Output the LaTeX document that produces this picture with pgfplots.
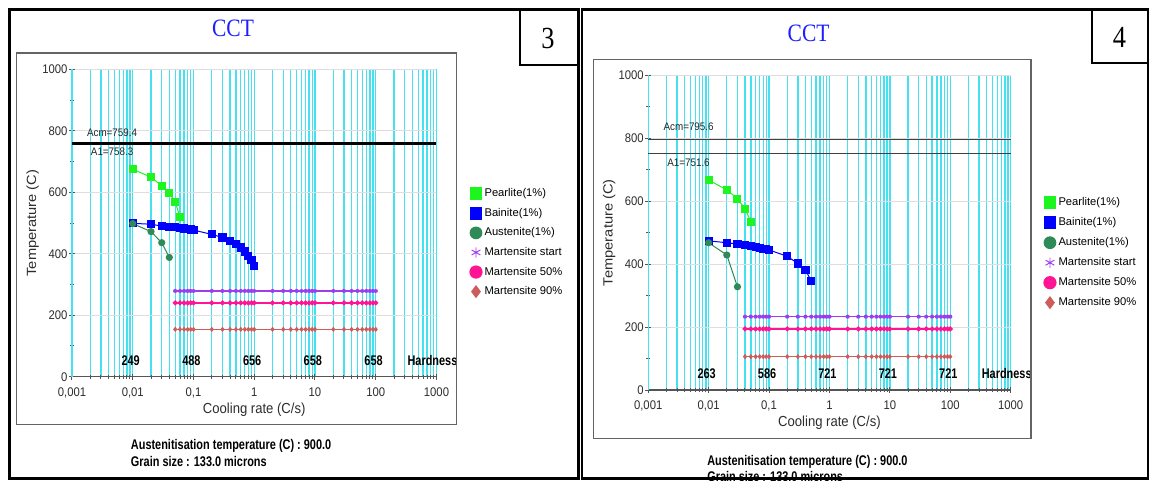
\documentclass[border=0pt]{standalone}
\usepackage{pgfplots}
\pgfplotsset{compat=1.18}
\usepackage{pgfplotstable}
\usepackage{fontspec}
\setmainfont{Liberation Sans}
\newfontfamily\tickf[FakeStretch=0.9]{Liberation Sans}
\newfontfamily\ylabf[FakeStretch=1.1]{Liberation Sans}
\newfontfamily\boldn[FakeStretch=0.78]{Liberation Sans Bold}
\newfontfamily\serf[FakeStretch=0.86]{Liberation Serif}
\definecolor{gridcyan}{RGB}{70,225,240}
\definecolor{hgrid}{RGB}{222,222,222}
\definecolor{pearl}{RGB}{30,245,30}
\definecolor{bain}{RGB}{0,0,255}
\definecolor{aust}{RGB}{46,139,87}
\definecolor{mstart}{RGB}{160,60,240}
\definecolor{mfifty}{RGB}{255,20,147}
\definecolor{mninety}{RGB}{205,92,92}
\definecolor{axgray}{RGB}{85,85,85}
\definecolor{txtgray}{RGB}{45,45,45}
\definecolor{ccblue}{RGB}{30,30,255}
\definecolor{framegray}{RGB}{100,100,100}

\newcommand\TickFont{\tickf\fontsize{9.4}{11}\selectfont}
\newcommand\XlabFont{\tickf\fontsize{10.9}{12}\selectfont}
\newcommand\YlabFont{\ylabf\fontsize{10}{12}\selectfont}
\newcommand\LegFont{\fontsize{8.4}{10}\selectfont}
\newcommand\HardFont{\boldn\fontsize{10.5}{12}\selectfont}
\newcommand\AFont{\tickf\fontsize{8.2}{10}\selectfont}

% ---------- data ----------
\pgfplotstableread{
x T
0.01 675
0.02 649
0.03 621
0.04 597
0.05 569
0.06 519
}\pearlA
\pgfplotstableread{
x T
0.01 499
0.02 496
0.03 490
0.04 488
0.05 486
0.06 484
0.07 482
0.08 480
0.09 479
0.1 477
0.2 463
0.3 453
0.4 441
0.5 431
0.6 420
0.7 407
0.8 393
0.9 380
1 361
}\bainA
\pgfplotstableread{
x T
0.01 498
0.02 472
0.03 436
0.04 388
}\austA
\pgfplotstableread{
x ms m50 m90
0.05 279 240 154
0.06 279 240 154
0.07 279 240 154
0.08 279 240 154
0.09 279 240 154
0.1 279 240 154
0.2 279 240 154
0.3 279 240 154
0.4 279 240 154
0.5 279 240 154
0.6 279 240 154
0.7 279 240 154
0.8 279 240 154
0.9 279 240 154
1 279 240 154
2 279 240 154
3 279 240 154
4 279 240 154
5 279 240 154
6 279 240 154
7 279 240 154
8 279 240 154
9 279 240 154
10 279 240 154
20 279 240 154
30 279 240 154
40 279 240 154
50 279 240 154
60 279 240 154
70 279 240 154
80 279 240 154
90 279 240 154
100 279 240 154
}\martA

\pgfplotstableread{
x T
0.01 667
0.02 636
0.03 608
0.04 576
0.05 535
}\pearlB
\pgfplotstableread{
x T
0.01 474
0.02 468
0.03 464
0.04 461
0.05 458
0.06 454
0.07 451
0.08 449
0.09 447
0.1 445
0.2 425
0.3 402
0.4 381
0.5 347
}\bainB
\pgfplotstableread{
x T
0.01 468
0.02 429
0.03 328
}\austB
\pgfplotstableread{
x ms m50 m90
0.04 233 194 106
0.05 233 194 106
0.06 233 194 106
0.07 233 194 106
0.08 233 194 106
0.09 233 194 106
0.1 233 194 106
0.2 233 194 106
0.3 233 194 106
0.4 233 194 106
0.5 233 194 106
0.6 233 194 106
0.7 233 194 106
0.8 233 194 106
0.9 233 194 106
1 233 194 106
2 233 194 106
3 233 194 106
4 233 194 106
5 233 194 106
6 233 194 106
7 233 194 106
8 233 194 106
9 233 194 106
10 233 194 106
20 233 194 106
30 233 194 106
40 233 194 106
50 233 194 106
60 233 194 106
70 233 194 106
80 233 194 106
90 233 194 106
100 233 194 106
}\martB

\pgfplotsset{
  legend image code/.code={\path[draw=none, fill=none] (-4.4pt,-5pt) rectangle (4.4pt,5pt);
      \draw[#1] plot coordinates {(0pt,0pt)};},
}

\begin{document}
\begin{tikzpicture}[x=0.75pt, y=0.75pt]
\useasboundingbox (0,0) rectangle (1149,480);
\fill[white] (0,0) rectangle (1149,480);

% ================= panel 3 =================
\begin{axis}[
  scale only axis,
  xmode=log, log basis x=10,
  xmin=0.001, xmax=1000, ymin=0, ymax=1000,
  axis x line*=bottom, axis y line*=left,
  axis line style={-},
  x axis line style={draw=axgray, line width=1.1pt},
  y axis line style={draw=gridcyan, line width=1pt},
  xtick={0.001,0.01,0.1,1,10,100,1000},
  xticklabels={{0,001},{0,01},{0,1},1,10,100,1000},
  minor xtick={0.002,0.003,0.004,0.005,0.006,0.007,0.008,0.009,
    0.02,0.03,0.04,0.05,0.06,0.07,0.08,0.09,
    0.2,0.3,0.4,0.5,0.6,0.7,0.8,0.9,
    2,3,4,5,6,7,8,9,20,30,40,50,60,70,80,90,
    200,300,400,500,600,700,800,900},
  ytick={0,200,400,600,800,1000},
  yticklabels={0,200,400,600,800,1000},
  minor ytick={100,300,500,700,900},
  xmajorgrids, xminorgrids, ymajorgrids,
  grid style={draw=gridcyan, line width=1pt},
  minor grid style={draw=gridcyan, line width=1pt},
  major grid style={draw=gridcyan, line width=1pt},
  major x grid style={draw=gridcyan, line width=1pt},
  minor x grid style={draw=gridcyan, line width=1pt},
  major y grid style={draw=hgrid, line width=0.8pt},
  tick align=center,
  major tick length=4.3pt, minor tick length=3pt,
  tick style={draw=axgray, line width=0.75pt},
  ticklabel style={font=\TickFont, text=txtgray},
  xticklabel style={yshift=-2.5pt},
  yticklabel style={xshift=2.3pt},
  xlabel={Cooling rate (C/s)}, ylabel={Temperature (C)},
  xlabel style={font=\XlabFont, text=txtgray, anchor=center, at={(axis description cs:0.5,-0.106)}},
  ylabel style={font=\YlabFont, text=txtgray, anchor=center, at={(axis description cs:-0.108,0.5)}},
  clip=false,
  legend style={draw=none, fill=none, inner sep=0pt, outer sep=0pt,
    font=\LegFont, row sep=3.1pt, column sep=0pt, anchor=north west,
    at={(axis description cs:1.0923,0.6204)},
    cells={anchor=west, inner sep=0pt}},
  at={(54pt,77.475pt)}, anchor=south west,
  width=273.375pt, height=230.55pt,
]
\addplot[forget plot, black, line width=1.6pt, mark=none] coordinates {(0.001,759.4) (1000,759.4)};
\addplot[forget plot, black, line width=1.6pt, mark=none] coordinates {(0.001,758.3) (1000,758.3)};
\addplot[color=pearl, line width=0.75pt, mark=square*, mark size=2.6pt, legend image post style={mark size=4.4pt}] table[x=x,y=T] {\pearlA};
\addlegendentry{Pearlite(1\%)}
\addplot[color=bain, line width=0.75pt, mark=square*, mark size=2.7pt, legend image post style={mark size=4.4pt}] table[x=x,y=T] {\bainA};
\addlegendentry{Bainite(1\%)}
\addplot[color=aust, line width=0.75pt, mark=*, mark size=2.3pt, legend image post style={mark size=4.4pt}] table[x=x,y=T] {\austA};
\addlegendentry{Austenite(1\%)}
\addplot[color=mstart, line width=1.1pt, mark=asterisk, mark size=1.5pt, legend image post style={mark size=3.8pt, line width=0.7pt}] table[x=x,y=ms] {\martA};
\addlegendentry{Martensite start}
\addplot[color=mfifty, line width=1.1pt, mark=*, mark size=1.3pt, legend image post style={mark size=4.4pt}] table[x=x,y=m50] {\martA};
\addlegendentry{Martensite 50\%}
\addplot[color=mninety, line width=0.9pt, mark=diamond*, mark size=1.3pt, legend image post style={mark size=4.2pt}] table[x=x,y=m90] {\martA};
\addlegendentry{Martensite 90\%}
\node[font=\AFont, anchor=west, text=black!85, inner sep=0pt] at (axis cs:0.00175,793) {Acm=759.4};
\node[font=\AFont, anchor=west, text=black!85, inner sep=0pt] at (axis cs:0.00203,731) {A1=758.3};
\node[font=\HardFont, xshift=-1.6pt] at (axis cs:0.01,52) {249};
\node[font=\HardFont, xshift=-1.6pt] at (axis cs:0.1,52) {488};
\node[font=\HardFont, xshift=-1.6pt] at (axis cs:1,52) {656};
\node[font=\HardFont, xshift=-1.6pt] at (axis cs:10,52) {658};
\node[font=\HardFont, xshift=-1.6pt] at (axis cs:100,52) {658};
\node[font=\HardFont, xshift=-3pt] at (axis cs:1000,52) {Hardness};
\end{axis}

% ================= panel 4 =================
\begin{axis}[
  scale only axis,
  xmode=log, log basis x=10,
  xmin=0.001, xmax=1000, ymin=0, ymax=1000,
  axis x line*=bottom, axis y line*=left,
  axis line style={-},
  x axis line style={draw=axgray, line width=1.1pt},
  y axis line style={draw=gridcyan, line width=1pt},
  xtick={0.001,0.01,0.1,1,10,100,1000},
  xticklabels={{0,001},{0,01},{0,1},1,10,100,1000},
  minor xtick={0.002,0.003,0.004,0.005,0.006,0.007,0.008,0.009,
    0.02,0.03,0.04,0.05,0.06,0.07,0.08,0.09,
    0.2,0.3,0.4,0.5,0.6,0.7,0.8,0.9,
    2,3,4,5,6,7,8,9,20,30,40,50,60,70,80,90,
    200,300,400,500,600,700,800,900},
  ytick={0,200,400,600,800,1000},
  yticklabels={0,200,400,600,800,1000},
  minor ytick={100,300,500,700,900},
  xmajorgrids, xminorgrids, ymajorgrids,
  grid style={draw=gridcyan, line width=1pt},
  minor grid style={draw=gridcyan, line width=1pt},
  major grid style={draw=gridcyan, line width=1pt},
  major x grid style={draw=gridcyan, line width=1pt},
  minor x grid style={draw=gridcyan, line width=1pt},
  major y grid style={draw=hgrid, line width=0.8pt},
  tick align=center,
  major tick length=4.3pt, minor tick length=3pt,
  tick style={draw=axgray, line width=0.75pt},
  ticklabel style={font=\TickFont, text=txtgray},
  xticklabel style={yshift=-2.5pt},
  yticklabel style={xshift=2.3pt},
  xlabel={Cooling rate (C/s)}, ylabel={Temperature (C)},
  xlabel style={font=\XlabFont, text=txtgray, anchor=center, at={(axis description cs:0.5,-0.104)}},
  ylabel style={font=\YlabFont, text=txtgray, anchor=center, at={(axis description cs:-0.108,0.5)}},
  clip=false,
  legend style={draw=none, fill=none, inner sep=0pt, outer sep=0pt,
    font=\LegFont, row sep=3.4pt, column sep=0pt, anchor=north west,
    at={(axis description cs:1.0921,0.6196)},
    cells={anchor=west, inner sep=0pt}},
  at={(486.15pt,67.5pt)}, anchor=south west,
  width=271.875pt, height=236.025pt,
]
\addplot[forget plot, black!75, line width=1.3pt, mark=none] coordinates {(0.001,795.6) (1000,795.6)};
\addplot[forget plot, black!75, line width=1.3pt, mark=none] coordinates {(0.001,751.6) (1000,751.6)};
\addplot[color=pearl, line width=0.75pt, mark=square*, mark size=2.6pt, legend image post style={mark size=4.4pt}] table[x=x,y=T] {\pearlB};
\addlegendentry{Pearlite(1\%)}
\addplot[color=bain, line width=0.75pt, mark=square*, mark size=2.7pt, legend image post style={mark size=4.4pt}] table[x=x,y=T] {\bainB};
\addlegendentry{Bainite(1\%)}
\addplot[color=aust, line width=0.75pt, mark=*, mark size=2.3pt, legend image post style={mark size=4.4pt}] table[x=x,y=T] {\austB};
\addlegendentry{Austenite(1\%)}
\addplot[color=mstart, line width=1.1pt, mark=asterisk, mark size=1.5pt, legend image post style={mark size=3.8pt, line width=0.7pt}] table[x=x,y=ms] {\martB};
\addlegendentry{Martensite start}
\addplot[color=mfifty, line width=1.1pt, mark=*, mark size=1.3pt, legend image post style={mark size=4.4pt}] table[x=x,y=m50] {\martB};
\addlegendentry{Martensite 50\%}
\addplot[color=mninety, line width=0.9pt, mark=diamond*, mark size=1.3pt, legend image post style={mark size=4.2pt}] table[x=x,y=m90] {\martB};
\addlegendentry{Martensite 90\%}
\node[font=\AFont, anchor=west, text=black!85, inner sep=0pt] at (axis cs:0.00178,835) {Acm=795.6};
\node[font=\AFont, anchor=west, text=black!85, inner sep=0pt] at (axis cs:0.00205,723) {A1=751.6};
\node[font=\HardFont, xshift=-1.5pt] at (axis cs:0.01,53) {263};
\node[font=\HardFont, xshift=-1.5pt] at (axis cs:0.1,53) {586};
\node[font=\HardFont, xshift=-1.5pt] at (axis cs:1,53) {721};
\node[font=\HardFont, xshift=-1.5pt] at (axis cs:10,53) {721};
\node[font=\HardFont, xshift=-1.5pt] at (axis cs:100,53) {721};
\node[font=\HardFont, xshift=-3pt] at (axis cs:1000,53) {Hardness};
\end{axis}

% ================= frames and texts =================
\draw[framegray, line width=1.1pt] (16.5,55.7) rectangle (456.5,427);
\draw[black, line width=1.7pt] (9.5,1.5) rectangle (578.5,470.5);
\draw[black, line width=1.5pt] (519.5,415.5) rectangle (578.5,470.5);
\node[font=\serf\fontsize{23}{26}\selectfont] at (548,441.5) {3};
\node[font=\serf\fontsize{18.75}{22}\selectfont, text=ccblue] at (233,452) {CCT};
\node[font=\HardFont, anchor=base west, inner sep=0pt] at (130.7,30.7) {Austenitisation temperature (C) : 900.0};
\node[font=\HardFont, anchor=base west, inner sep=0pt] at (130.7,14) {Grain size : 133.0 microns};
\draw[framegray, line width=1.1pt] (593.5,41.3) rectangle (1030.8,420.7);
\draw[black, line width=1.7pt] (582,1.5) rectangle (1148,470.5);
\draw[black, line width=1.5pt] (1091.5,417) rectangle (1148,470.5);
\node[font=\serf\fontsize{23}{26}\selectfont] at (1119.5,442.7) {4};
\node[font=\serf\fontsize{18.75}{22}\selectfont, text=ccblue] at (808.6,446.7) {CCT};
\node[font=\HardFont, anchor=base west, inner sep=0pt] at (707,15) {Austenitisation temperature (C) : 900.0};
\node[font=\HardFont, anchor=base west, inner sep=0pt] at (707,-1) {Grain size : 133.0 microns};
\end{tikzpicture}
\end{document}
